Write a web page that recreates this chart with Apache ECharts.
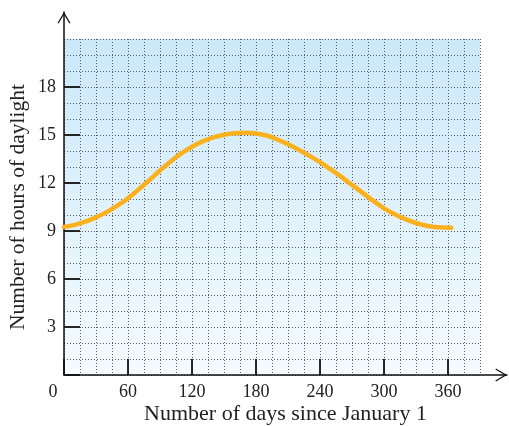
<!DOCTYPE html>
<html>
<head>
<meta charset="utf-8">
<script src="https://cdn.jsdelivr.net/npm/echarts@6/dist/echarts.min.js"></script>
<style>
html,body{margin:0;padding:0;background:#fff;}
#chart{width:509px;height:426px;}
</style>
</head>
<body>
<div id="chart"></div>
<script>
// Data
const days  = [0, 10, 20, 30, 40, 50, 60, 70, 80, 90, 100, 110, 120, 130, 140, 150, 160, 170, 180, 190, 200, 210, 220, 230, 240, 250, 260, 270, 280, 290, 300, 310, 320, 330, 340, 350, 363];
const hours = [9.25, 9.38, 9.58, 9.85, 10.18, 10.58, 11.05, 11.6, 12.18, 12.78, 13.35, 13.85, 14.27, 14.6, 14.85, 15.02, 15.11, 15.14, 15.1, 14.97, 14.72, 14.42, 14.08, 13.7, 13.3, 12.85, 12.38, 11.88, 11.38, 10.88, 10.42, 10.04, 9.74, 9.5, 9.33, 9.23, 9.2];
const xTickLabels = [0, 60, 120, 180, 240, 300, 360];
const yTickLabels = [3, 6, 9, 12, 15, 18];
const xTitle = 'Number of days since January 1';
const yTitle = 'Number of hours of daylight';

const FONT = 'Liberation Serif';
const TEXT = '#222';
const dotted = { color: '#5a5f66', width: 1, type: [1, 2] };
const chevron = 'path://M0,11 L6.5,0 L13,11 L11.9,11.6 L6.5,2.4 L1.1,11.6 Z';

const chart = echarts.init(document.getElementById('chart'), null, { renderer: 'canvas' });

const option = {
  animation: false,
  grid: [
    { // data grid
      left: 64, top: 39, width: 416, height: 336, outerBoundsMode: 'none', containLabel: false,
      show: true, borderWidth: 0,
      backgroundColor: { type: 'linear', x: 0, y: 0, x2: 0, y2: 1,
        colorStops: [{ offset: 0, color: '#cbe8f9' }, { offset: 1, color: '#f5fbfe' }] }
    },
    { left: 64, top: 87, width: 384, height: 288, outerBoundsMode: 'none', containLabel: false },   // ticks & labels
    { left: 64, top: 12, width: 443, height: 363, outerBoundsMode: 'none', containLabel: false }    // axis lines with arrows
  ],
  xAxis: [
    { gridIndex: 0, type: 'value', min: 0, max: 390, interval: 15,
      axisLine: { show: false }, axisTick: { show: false }, axisLabel: { show: false },
      splitLine: { show: true, lineStyle: dotted } },
    { gridIndex: 1, type: 'value', min: 0, max: 360, interval: 60,
      axisLine: { show: false },
      axisTick: { show: true, inside: true, length: 16, lineStyle: { color: '#111', width: 1.8 } },
      axisLabel: { show: true, margin: 8, color: TEXT, fontFamily: FONT, fontSize: 18,
        formatter: function (v) { return xTickLabels.indexOf(v) < 0 ? '' : (v === 0 ? '{z|0}' : String(v)); },
        rich: { z: { fontFamily: FONT, fontSize: 18, color: TEXT, padding: [0, 22, 0, 0] } } },
      splitLine: { show: false } },
    { gridIndex: 2, type: 'value', min: 0, max: 1,
      axisLine: { show: true, onZero: false, symbol: ['none', chevron], symbolSize: [13, 11.6], symbolOffset: [0, -5.8],
        lineStyle: { color: '#111', width: 1.5 } },
      axisTick: { show: false }, axisLabel: { show: false }, splitLine: { show: false },
      name: xTitle, nameLocation: 'middle', nameGap: 28,
      nameTextStyle: { fontFamily: FONT, fontSize: 22, color: TEXT } }
  ],
  yAxis: [
    { gridIndex: 0, type: 'value', min: 0, max: 21, interval: 1,
      axisLine: { show: false }, axisTick: { show: false }, axisLabel: { show: false },
      splitLine: { show: true, lineStyle: dotted },
      name: yTitle, nameLocation: 'middle', nameGap: 35,
      nameTextStyle: { fontFamily: FONT, fontSize: 21.5, color: TEXT } },
    { gridIndex: 1, type: 'value', min: 0, max: 18, interval: 3,
      axisLine: { show: false },
      axisTick: { show: true, inside: true, length: 16, lineStyle: { color: '#111', width: 1.8 } },
      axisLabel: { show: true, margin: 8, color: TEXT, fontFamily: FONT, fontSize: 18,
        formatter: function (v) { return yTickLabels.indexOf(v) < 0 ? '' : String(v); } },
      splitLine: { show: false } },
    { gridIndex: 2, type: 'value', min: 0, max: 1,
      axisLine: { show: true, onZero: false, symbol: ['none', chevron], symbolSize: [13, 11.6], symbolOffset: [0, -5.8],
        lineStyle: { color: '#111', width: 1.5 } },
      axisTick: { show: false }, axisLabel: { show: false }, splitLine: { show: false } }
  ],
  series: [{
    type: 'line', xAxisIndex: 0, yAxisIndex: 0,
    data: days.map((d, i) => [d, hours[i]]),
    smooth: 0.4, showSymbol: false, symbol: 'none',
    lineStyle: { color: '#fbb01d', width: 4.5, cap: 'round' },
    z: 5
  }]
};
chart.setOption(option);
</script>
</body>
</html>
